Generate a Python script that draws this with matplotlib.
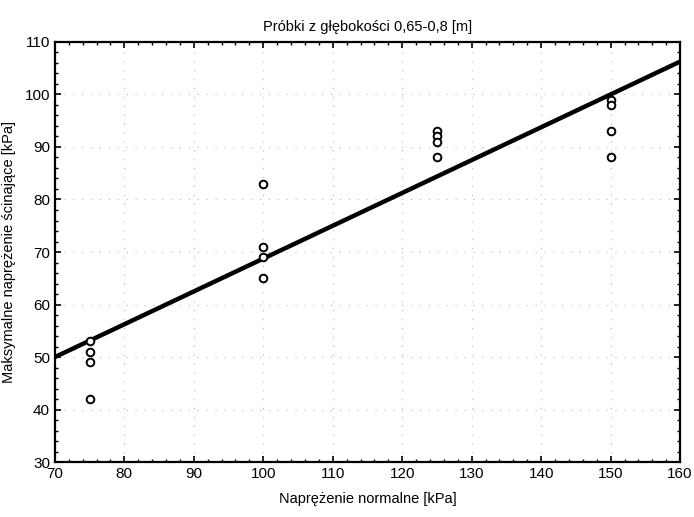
import matplotlib.pyplot as plt
import numpy as np
from matplotlib.ticker import MultipleLocator

plt.rcParams["font.family"] = ["Liberation Sans", "DejaVu Sans"]

# dane pomiarowe
x_vals = [75, 75, 75, 75,
          100, 100, 100, 100,
          125, 125, 125, 125,
          150, 150, 150, 150]
y_vals = [53, 51, 49, 42,
          83, 71, 69, 65,
          93, 92, 91, 88,
          99, 98, 93, 88]

x_range = [70, 160]

fig = plt.figure(figsize=(6.94, 5.17), dpi=100)
ax = fig.add_axes([0.079, 0.106, 0.901, 0.813])

# prosta regresji
coef = np.polyfit(x_vals, y_vals, 1)
xl = np.array(x_range)
ax.plot(xl, np.polyval(coef, xl), color="black", lw=3.2, zorder=3)

ax.plot(x_vals, y_vals, "o", mfc="white", mec="black", mew=1.4, ms=5.5, zorder=4)

ax.set_xlim(70, 160)
ax.set_ylim(30, 110)
ax.xaxis.set_major_locator(MultipleLocator(10))
ax.xaxis.set_minor_locator(MultipleLocator(2))
ax.yaxis.set_major_locator(MultipleLocator(10))
ax.yaxis.set_minor_locator(MultipleLocator(2))
ax.tick_params(which="both", direction="in", top=True, right=True, labelsize=11)
ax.tick_params(which="major", length=4, width=1.2)
ax.tick_params(which="minor", length=2.5, width=1)
for s in ax.spines.values():
    s.set_linewidth(1.6)

ax.grid(True, which="major", color="0.72", linestyle=(0, (1, 7)), lw=0.8)

ax.set_title("Próbki z głębokości 0,65-0,8 [m]", fontsize=10.5, pad=8)
ax.set_xlabel("Naprężenie normalne [kPa]", fontsize=10.5, labelpad=8)
ax.set_ylabel("Maksymalne naprężenie ścinające [kPa]", fontsize=10.5, labelpad=6)

plt.savefig("out.png", dpi=100)
